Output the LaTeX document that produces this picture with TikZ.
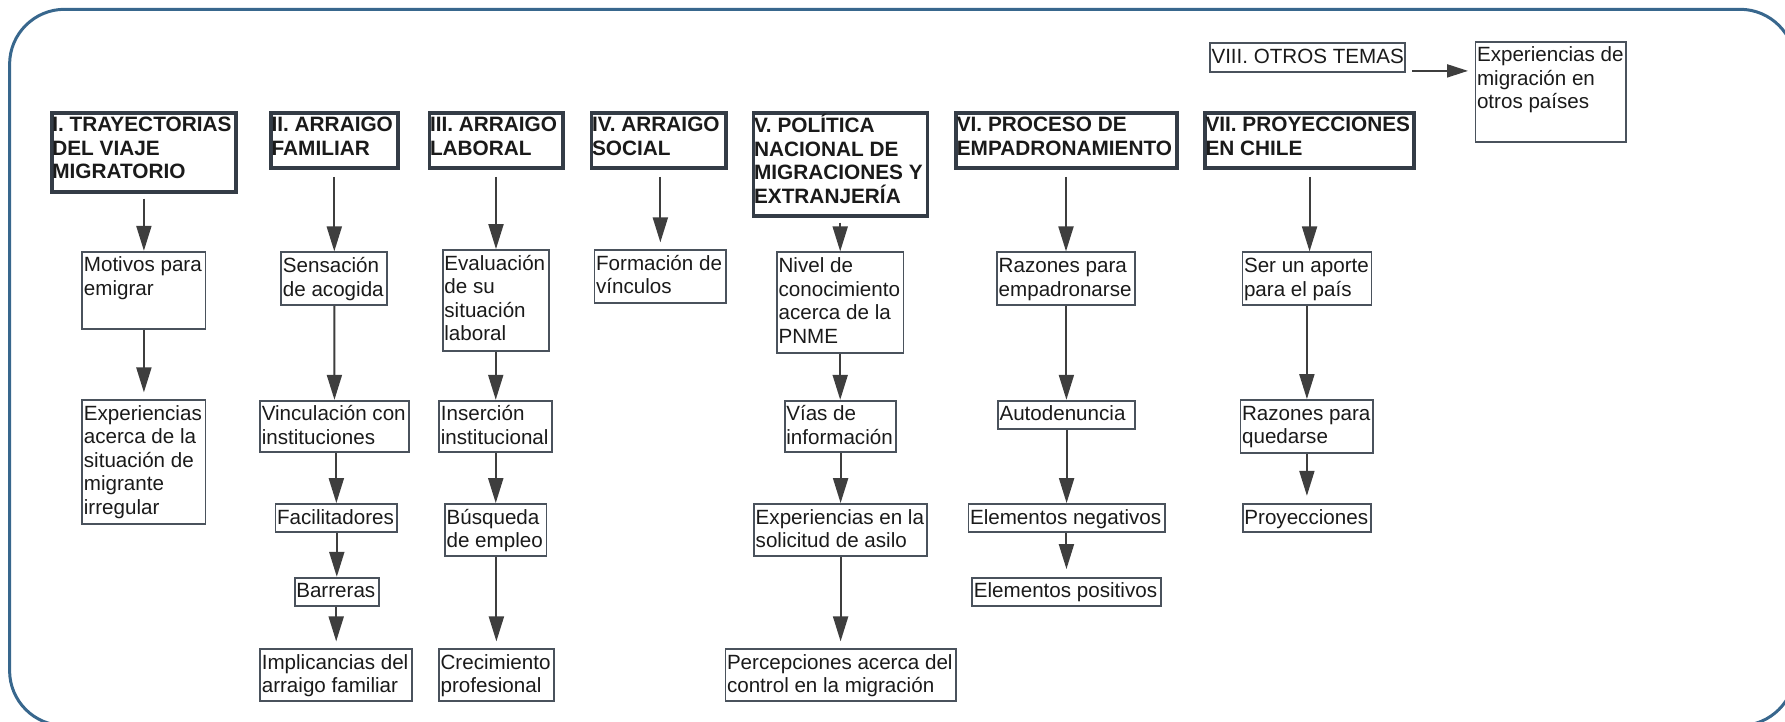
\documentclass[tikz,border=0pt]{standalone}
\usepackage{fontspec}
\setmainfont{Liberation Sans}
\usetikzlibrary{arrows.meta,fit}
\definecolor{framec}{RGB}{56,103,141}
\definecolor{boxc}{RGB}{74,82,92}
\definecolor{hdc}{RGB}{52,60,70}
\definecolor{arrc}{RGB}{62,62,62}
\definecolor{txtc}{RGB}{26,26,26}
\newcommand\myfst{\rule{0pt}{17.5pt}}
\begin{document}
\begin{tikzpicture}[x=1pt,y=-1pt,
  bx/.style={draw=boxc, line width=1.8pt, inner sep=0pt},
  hd/.style={draw=hdc, line width=3.8pt, inner sep=0pt},
  txt/.style={anchor=north west, inner sep=0pt, xshift=2.3pt, yshift=-3.3pt, align=left, text=txtc, font=\fontsize{20.6}{23.6}\selectfont},
  htxt/.style={txt, font=\fontsize{20.8}{23.6}\selectfont\bfseries},
  arr/.style={draw=arrc, line width=2pt, -{Triangle[length=25pt,width=15pt]}},
  harr/.style={draw=arrc, line width=2pt, -{Triangle[length=21pt,width=13pt]}},
  frame/.style={draw=framec, line width=3pt, rounded corners=55pt}]
\useasboundingbox (0,0) rectangle (1785,722);
\begin{scope}
\clip (0,0) rectangle (1785,722);
\draw[frame] (9.6,9.3) rectangle (1795,725.6);
\end{scope}

% headers
\node[hd, fit={(51.7,112.7) (236,191.7)}, label={[htxt]north west:{\myfst I. TRAYECTORIAS\\DEL VIAJE\\MIGRATORIO}}] (h1) {};
\node[hd, fit={(271,112.7) (398,167.7)}, label={[htxt]north west:{\myfst II. ARRAIGO\\FAMILIAR}}] (h2) {};
\node[hd, fit={(429.4,112.7) (562.6,167.7)}, label={[htxt]north west:{\myfst III. ARRAIGO\\LABORAL}}] (h3) {};
\node[hd, fit={(591.5,112.7) (726.2,167.7)}, label={[htxt]north west:{\myfst IV. ARRAIGO\\SOCIAL}}] (h4) {};
\node[hd, fit={(753.4,112.7) (927.5,216)}, label={[htxt]north west:{\myfst V. POLÍTICA\\NACIONAL DE\\MIGRACIONES Y\\EXTRANJERÍA}}] (h5) {};
\node[hd, fit={(956.2,112.7) (1177,167.7)}, label={[htxt]north west:{\myfst VI. PROCESO DE\\EMPADRONAMIENTO}}] (h6) {};
\node[hd, fit={(1204.9,112.7) (1414.2,167.7)}, label={[htxt]north west:{\myfst VII. PROYECCIONES\\EN CHILE}}] (h7) {};

% VIII
\node[bx, fit={(1209.9,43.3) (1405,72.3)}, label={[txt]north west:{\myfst VIII. OTROS TEMAS}}] (h8) {};
\node[bx, fit={(1475.4,41.7) (1625.8,142.3)}, label={[txt]north west:{\myfst Experiencias de\\migración en\\otros países}}] (o1) {};

% column I
\node[bx, fit={(82.3,251.7) (205.5,329)}, label={[txt]north west:{\myfst Motivos para\\emigrar}}] (a1) {};
\node[bx, fit={(82.3,400) (205.5,524.3)}, label={[txt]north west:{\myfst Experiencias\\acerca de la\\situación de\\migrante\\irregular}}] (a2) {};

% column II
\node[bx, fit={(281.3,252.3) (387.3,305)}, label={[txt]north west:{\myfst Sensación\\de acogida}}] (b1) {};
\node[bx, fit={(260.2,400.7) (408.7,452.3)}, label={[txt]north west:{\myfst Vinculación con\\instituciones}}] (b2) {};
\node[bx, fit={(275.5,504) (397.2,532)}, label={[txt]north west:{\myfst Facilitadores}}] (b3) {};
\node[bx, fit={(294.7,577.7) (378.9,606)}, label={[txt]north west:{\myfst Barreras}}] (b4) {};
\node[bx, fit={(260.2,649) (412.2,701.3)}, label={[txt]north west:{\myfst Implicancias del\\arraigo familiar}}] (b5) {};

% column III
\node[bx, fit={(442.8,250) (549.2,350.7)}, label={[txt]north west:{\myfst Evaluación\\de su\\situación\\laboral}}] (c1) {};
\node[bx, fit={(439.3,400.7) (552.2,452.3)}, label={[txt]north west:{\myfst Inserción\\institucional}}] (c2) {};
\node[bx, fit={(445,504) (546.5,556)}, label={[txt]north west:{\myfst Búsqueda\\de empleo}}] (c3) {};
\node[bx, fit={(439,649) (553.8,701.3)}, label={[txt]north west:{\myfst Crecimiento\\profesional}}] (c4) {};

% column IV
\node[bx, fit={(594.5,250) (726.2,302.7)}, label={[txt]north west:{\myfst Formación de\\vínculos}}] (d1) {};

% column V
\node[bx, fit={(777,252.3) (903.4,352.7)}, label={[txt]north west:{\myfst Nivel de\\conocimiento\\acerca de la\\PNME}}] (e1) {};
\node[bx, fit={(784.7,400.7) (895.7,452.3)}, label={[txt]north west:{\myfst Vías de\\información}}] (e2) {};
\node[bx, fit={(754.1,504) (927.1,556)}, label={[txt]north west:{\myfst Experiencias en la\\solicitud de asilo}}] (e3) {};
\node[bx, fit={(725.4,649) (955.8,701.3)}, label={[txt]north west:{\myfst Percepciones acerca del\\control en la migración}}] (e4) {};

% column VI
\node[bx, fit={(997.1,252.3) (1134.9,305)}, label={[txt]north west:{\myfst Razones para\\empadronarse}}] (f1) {};
\node[bx, fit={(997.9,400.7) (1134.9,429)}, label={[txt]north west:{\myfst Autodenuncia}}] (f2) {};
\node[bx, fit={(968.4,504) (1164.8,532.3)}, label={[txt]north west:{\myfst Elementos negativos}}] (f3) {};
\node[bx, fit={(972.3,577.7) (1160.6,606)}, label={[txt]north west:{\myfst Elementos positivos}}] (f4) {};

% column VII
\node[bx, fit={(1242.4,252.3) (1371.4,305)}, label={[txt]north west:{\myfst Ser un aporte\\para el país}}] (g1) {};
\node[bx, fit={(1240.5,400) (1373.3,452.7)}, label={[txt]north west:{\myfst Razones para\\quedarse}}] (g2) {};
\node[bx, fit={(1242.8,504) (1371,532.3)}, label={[txt]north west:{\myfst Proyecciones}}] (g3) {};

% arrows
\draw[arr, shorten <=5pt] (a1.north |- h1.south) -- (a1.north);
\draw[arr, shorten >=6.7pt] (a1.south) -- (a2.north);

\draw[arr, shorten <=7.3pt] (b1.north |- h2.south) -- (b1.north);
\draw[arr] (b1.south) -- (b2.north);
\draw[arr] (b3.north |- b2.south) -- (b3.north);
\draw[arr] (b4.north |- b3.south) -- (b4.north);
\draw[arr, shorten >=6.7pt] (b5.north |- b4.south) -- (b5.north);

\draw[arr, shorten <=7.3pt] (c1.north |- h3.south) -- (c1.north);
\draw[arr] (c2.north |- c1.south) -- (c2.north);
\draw[arr] (c3.north |- c2.south) -- (c3.north);
\draw[arr, shorten >=6.7pt] (c4.north |- c3.south) -- (c4.north);

\draw[arr, shorten <=7.3pt, shorten >=6.7pt] (d1.north |- h4.south) -- (d1.north);

\draw[arr, shorten <=4.7pt] (e1.north |- h5.south) -- (e1.north);
\draw[arr] (e2.north |- e1.south) -- (e2.north);
\draw[arr] (e3.north |- e2.south) -- (e3.north);
\draw[arr, shorten >=6.7pt] (e4.north |- e3.south) -- (e4.north);

\draw[arr, shorten <=7.3pt] (f1.north |- h6.south) -- (f1.north);
\draw[arr] (f2.north |- f1.south) -- (f2.north);
\draw[arr] (f3.north |- f2.south) -- (f3.north);
\draw[arr, shorten >=7.7pt] (f4.north |- f3.south) -- (f4.north);

\draw[arr, shorten <=7.3pt] (h7.south) -- (h7.south |- g1.north);
\draw[arr] (g2.north |- g1.south) -- (g2.north);
\draw[arr, shorten >=7.3pt] (g3.north |- g2.south) -- (g3.north);

\draw[harr, shorten <=6.5pt, shorten >=6.5pt] ([yshift=2.3pt]h8.south east) -- ([yshift=2.3pt]h8.south east -| o1.west);
\end{tikzpicture}
\end{document}
